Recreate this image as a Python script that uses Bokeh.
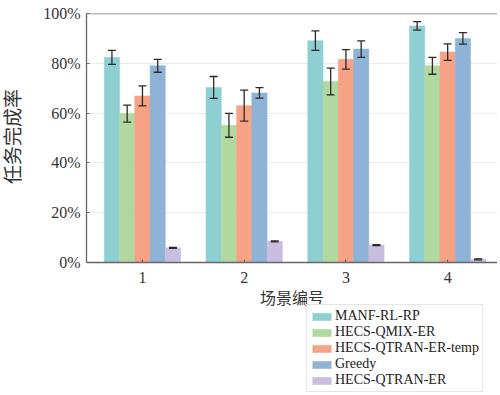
from bokeh.plotting import figure
from bokeh.models import (ColumnDataSource, Whisker, TeeHead, Legend, LegendItem,
                          FixedTicker, Span, Range1d)
from bokeh.embed import file_html
from bokeh.resources import INLINE

scenarios = [1, 2, 3, 4]
methods = ["MANF-RL-RP", "HECS-QMIX-ER", "HECS-QTRAN-ER-temp", "Greedy", "HECS-QTRAN-ER"]

manf = [82.4, 70.3, 89.1, 95.0]
manf_err = [2.8, 4.4, 3.9, 1.7]
qmix = [59.8, 55.1, 72.7, 79.0]
qmix_err = [3.4, 4.8, 5.4, 3.4]
qtran_temp = [66.9, 63.0, 81.6, 84.5]
qtran_temp_err = [4.0, 6.2, 3.9, 3.3]
greedy = [79.0, 68.1, 85.7, 90.0]
greedy_err = [2.6, 2.1, 3.3, 2.3]
qtran = [5.9, 8.5, 7.0, 1.3]
qtran_err = [0.2, 0.2, 0.2, 0.2]

y_ticks = [0, 20, 40, 60, 80, 100]
y_tick_labels = ["0%", "20%", "40%", "60%", "80%", "100%"]

colors = ["#8ecfd1", "#b0d89f", "#f6a285", "#8fb3d7", "#c9bedf"]
series = [manf, qmix, qtran_temp, greedy, qtran]
errors = [manf_err, qmix_err, qtran_temp_err, greedy_err, qtran_err]

SERIF = "Liberation Serif"
CJK = "Liberation Serif, Noto Sans CJK SC"

# frame extends below the 0% line so the legend can sit under the x axis
p = figure(frame_width=411, frame_height=379, min_border_left=85, min_border_right=0,
           min_border_top=13, min_border_bottom=0,
           x_range=Range1d(0.45, 4.49), y_range=Range1d(-52.2, 100),
           output_backend="svg", toolbar_location=None)
p.outline_line_color = None
p.background_fill_color = "white"

bw = 0.15
items = []
for i, (name, vals, errs, col) in enumerate(zip(methods, series, errors, colors)):
    xs = [s + (i - 2) * bw for s in scenarios]
    src = ColumnDataSource(dict(x=xs, top=vals,
                                upper=[v + e for v, e in zip(vals, errs)],
                                lower=[v - e for v, e in zip(vals, errs)]))
    r = p.vbar(x="x", top="top", bottom=0, width=bw, source=src, fill_color=col,
               line_color=col, line_alpha=0.5, line_width=1)
    w = Whisker(source=src, base="x", upper="upper", lower="lower", dimension="height",
                level="overlay", line_color="#2a2a2a", line_width=1.3,
                upper_head=TeeHead(size=8, line_color="#2a2a2a", line_width=1.3),
                lower_head=TeeHead(size=8, line_color="#2a2a2a", line_width=1.3))
    p.add_layout(w)
    items.append(LegendItem(label=name, renderers=[r]))

p.add_layout(Span(location=100, dimension="width", line_color="#777777", line_width=1.3))

p.xgrid.grid_line_color = None
p.ygrid.grid_line_color = "#ebebeb"
p.ygrid.grid_line_width = 1

p.xaxis.ticker = FixedTicker(ticks=scenarios)
p.xaxis.fixed_location = 0
p.yaxis.ticker = FixedTicker(ticks=y_ticks)
p.yaxis.bounds = (0, 100)
p.yaxis.major_label_overrides = {t: l for t, l in zip(y_ticks, y_tick_labels)}

for ax in (p.xaxis, p.yaxis):
    ax.axis_line_color = "#666666"
    ax.axis_line_width = 1.3
    ax.major_tick_line_color = "#666666"
    ax.major_tick_in = 3
    ax.major_tick_out = 0
    ax.minor_tick_line_color = None
    ax.major_label_text_font = SERIF
    ax.major_label_text_font_size = "16px"
    ax.major_label_text_color = "#333333"
    ax.axis_label_text_font = CJK
    ax.axis_label_text_font_style = "normal"
    ax.axis_label_text_color = "#333333"

p.xaxis.axis_label = "场景编号"
p.xaxis.axis_label_text_font_size = "16px"
p.xaxis.major_label_standoff = 9
p.xaxis.axis_label_standoff = 4
# leading ideographic spaces shift the visible label up to the centre of the 0-100% span
p.yaxis.axis_label = "\u3000" * 7 + "任务完成率"
p.yaxis.axis_label_text_font_size = "19px"
p.yaxis.major_label_standoff = 6
p.yaxis.axis_label_standoff = 16

legend = Legend(items=items, location=(220, 0))
legend.label_text_font = SERIF
legend.label_text_font_size = "14px"
legend.label_text_color = "#222222"
legend.glyph_width = 23
legend.glyph_height = 9
legend.label_height = 13
legend.label_standoff = 2
legend.spacing = 0
legend.padding = 3
legend.margin = 0
legend.border_line_color = "#cccccc"
legend.border_line_width = 1
legend.background_fill_alpha = 1
p.add_layout(legend, "center")

open("out.html", "w").write(file_html(p, INLINE))
